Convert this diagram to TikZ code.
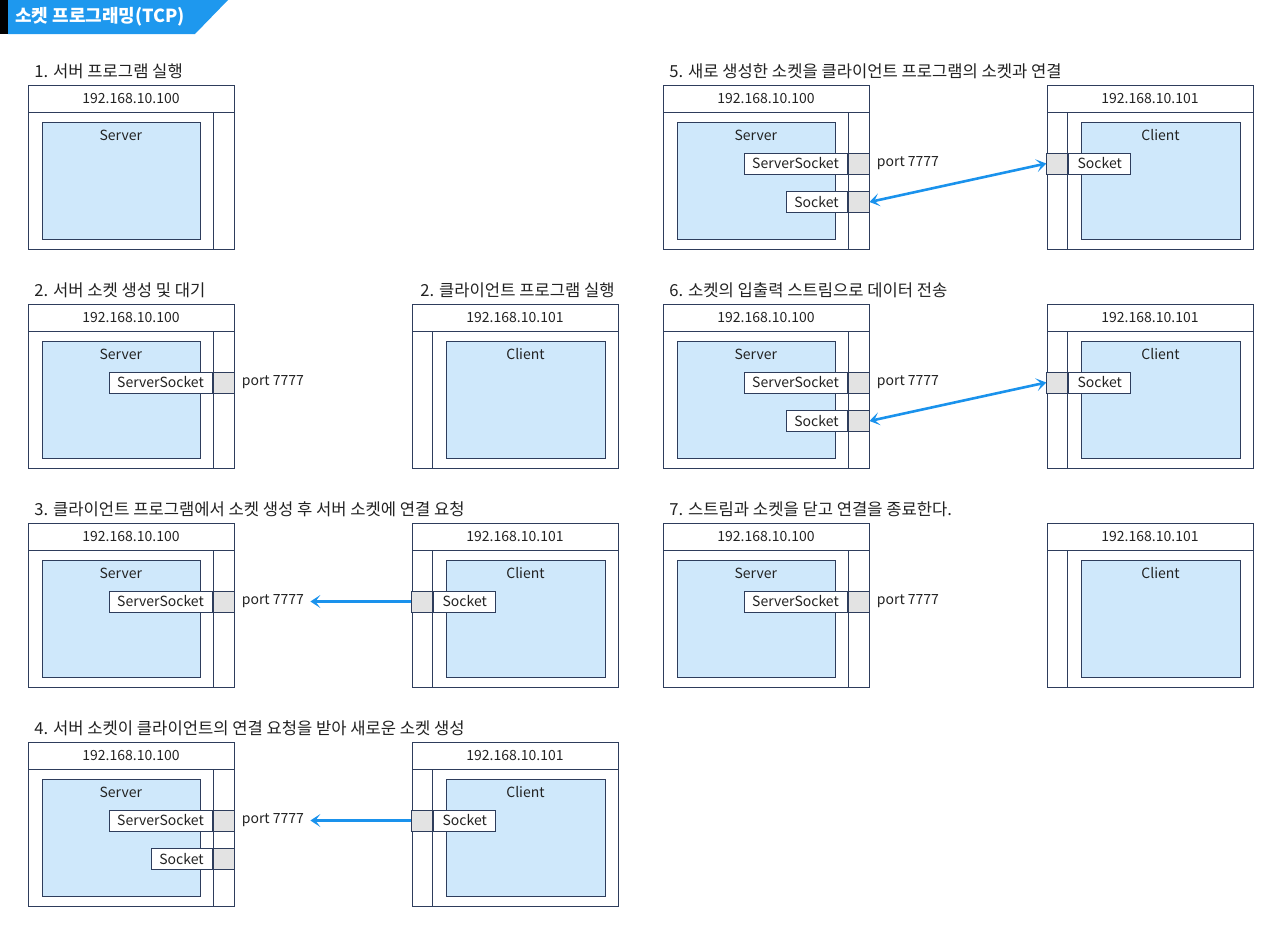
\documentclass[tikz,border=0pt]{standalone}
\usepackage{fontspec}
\setmainfont{Noto Sans CJK KR}
\usetikzlibrary{arrows.meta,positioning}
\definecolor{Ink}{HTML}{222222}
\definecolor{Frame}{HTML}{2E3D5C}
\definecolor{AppBlue}{HTML}{CFE8FB}
\definecolor{PortGray}{HTML}{E3E3E3}
\definecolor{Flow}{HTML}{1A92EC}
\definecolor{Banner}{HTML}{1E98EE}
\tikzset{frame/.style={draw=Frame,line width=.5pt},app/.style={draw=Frame,fill=AppBlue,line width=.5pt,minimum width=79.25pt,minimum height=58.5pt,anchor=north west,inner sep=0pt},txt/.style={font=\fontsize{7}{8}\selectfont,text=Ink,inner sep=0pt},sock/.style={draw=Frame,fill=white,line width=.5pt,minimum height=10.5pt,inner sep=0pt,font=\fontsize{7}{8}\selectfont,text=Ink},gport/.style={draw=Frame,fill=PortGray,line width=.5pt,minimum width=10.5pt,minimum height=10.5pt,inner sep=0pt},steplab/.style={anchor=west,font=\fontsize{8.3}{10}\selectfont,text=Ink,inner sep=0pt},flow/.style={-{Stealth[length=5pt,width=6.5pt,inset=2.5pt]},line width=1.3pt,draw=Flow},flowboth/.style={{Stealth[length=5pt,width=6.5pt,inset=2.5pt]}-{Stealth[length=5pt,width=6.5pt,inset=2.5pt]},line width=1.3pt,draw=Flow}}
\tikzset{serverpc/.pic={\draw[frame] (0,0) rectangle (206,164) (0,27) -- (206,27) (185,27) -- (185,164);
\node[txt] (-ip) at (103,13.5) {192.168.10.100};
\node[app] (-box) at (13.5,37) {};
\node[txt] (-name) at (92.75,50) {Server};
\coordinate (-ssp) at (195.5,78.5);
\coordinate (-skp) at (195.5,117);},
clientpc/.pic={\draw[frame] (0,0) rectangle (206,164) (0,27) -- (206,27) (20.5,27) -- (20.5,164);
\node[txt] (-ip) at (103,13.5) {192.168.10.101};
\node[app] (-box) at (34,37) {};
\node[txt] (-name) at (113.5,50) {Client};
\coordinate (-skp) at (10.25,78.5);}}

\begin{document}
\begin{tikzpicture}[x=.5pt,y=-.5pt]
\useasboundingbox (0,0) rectangle (1280,932);
\fill[black] (0,0) rectangle (8,34);
\fill[Banner] (8,0) -- (228,0) -- (195,34) -- (8,34) -- cycle;
\node[anchor=west,font=\bfseries\fontsize{9}{10}\selectfont,text=white,inner sep=0pt] (title) at (15,17) {소켓 프로그래밍(TCP)};
\foreach \n/\x/\y/\t in {1/34/71/{1. 서버 프로그램 실행},2/34/290/{2. 서버 소켓 생성 및 대기},2c/420/290/{2. 클라이언트 프로그램 실행},3/34/509/{3. 클라이언트 프로그램에서 소켓 생성 후 서버 소켓에 연결 요청},4/34/728/{4. 서버 소켓이 클라이언트의 연결 요청을 받아 새로운 소켓 생성},5/669/71/{5. 새로 생성한 소켓을 클라이언트 프로그램의 소켓과 연결},6/669/290/{6. 소켓의 입출력 스트림으로 데이터 전송},7/669/509/{7. 스트림과 소켓을 닫고 연결을 종료한다.}}{\node[steplab] (lab\n) at (\x,\y) {\t};}
\foreach \n/\x/\y in {1/28/85,2/28/304,3/28/523,4/28/742,5/663/85,6/663/304,7/663/523}{\pic (s\n) at (\x,\y) {serverpc};}
\foreach \n/\x/\y in {2/412/304,3/412/523,4/412/742,5/1047/85,6/1047/304,7/1047/523}{\pic (c\n) at (\x,\y) {clientpc};}
\foreach \n in {2,...,7}{\node[gport] (ssp\n) at (s\n-ssp) {};
\node[sock,minimum width=51.5pt,left=0pt of ssp\n] (ss\n) {ServerSocket};
\node[txt,right=3.5pt of ssp\n] (pl\n) {port 7777};}
\foreach \n in {4,5,6}{\node[gport] (skp\n) at (s\n-skp) {};
\node[sock,minimum width=30.5pt,left=0pt of skp\n] (sk\n) {Socket};}
\foreach \n in {3,...,6}{\node[gport] (csp\n) at (c\n-skp) {};
\node[sock,minimum width=31pt,right=0pt of csp\n] (cs\n) {Socket};}
\foreach \n in {3,4}{\draw[flow] (csp\n.west) -- ([xshift=3pt]pl\n.east);}
\foreach \n in {5,6}{\draw[flowboth] (skp\n.east) -- (csp\n.west);}
\end{tikzpicture}
\end{document}
